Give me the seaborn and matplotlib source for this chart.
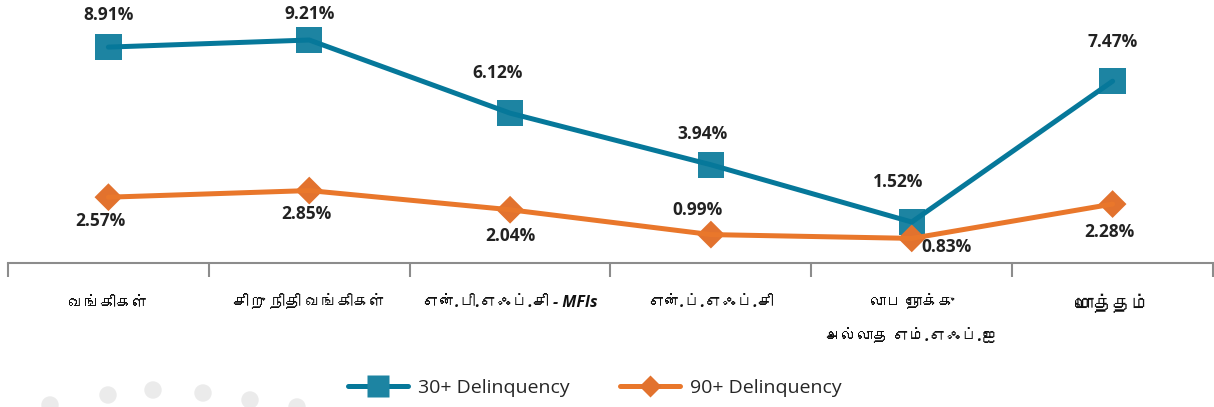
import matplotlib
matplotlib.use("Agg")
import matplotlib.pyplot as plt
from matplotlib import font_manager
from matplotlib.ft2font import FT2Font
from matplotlib.lines import Line2D
from matplotlib.patches import Circle
from matplotlib.ticker import FixedLocator
import pandas as pd
import seaborn as sns

CATEGORIES = [
    "வங்கிகள்",
    "சிறு நிதி வங்கிகள்",
    "என்.பி.எஃப்.சி - MFIs",
    "என்.ப்.எஃப்.சி",
    "லாப நோக்கு\nஅல்லாத எம்.எஃப்.ஐ",
    "மொத்தம்",
]
DELINQ_30 = [8.91, 9.21, 6.12, 3.94, 1.52, 7.47]
DELINQ_90 = [2.57, 2.85, 2.04, 0.99, 0.83, 2.28]
SERIES_NAMES = ["30+ Delinquency", "90+ Delinquency"]

BLUE_LINE = "#06789a"
BLUE_MARK = "#1d84a2"
ORANGE_LINE = "#e9772b"
ORANGE_MARK = "#e2722e"

# label offsets in points (dx, dy) per point
OFFSETS_30 = [(0, 23), (0, 19), (-9, 29), (-6, 22), (-10, 29), (0, 28)]
OFFSETS_90 = [(-6, -17), (-2, -17), (0, -19), (-10, 18), (25, -6), (-2, -20)]


def find_tamil_font():
    for entry in font_manager.fontManager.ttflist:
        try:
            cmap = FT2Font(entry.fname).get_charmap()
        except Exception:
            continue
        if ord("வ") in cmap and ord("ஃ") in cmap:
            return entry.name
    return None


def main():
    sns.set_theme(style="white")
    tamil = find_tamil_font()
    families = ["Open Sans", "DejaVu Sans"]
    if tamil:
        families = ["Open Sans", tamil, "DejaVu Sans"]
    plt.rcParams["font.family"] = families

    df = pd.DataFrame({
        "pos": list(range(len(CATEGORIES))) * 2,
        "value": DELINQ_30 + DELINQ_90,
        "series": [SERIES_NAMES[0]] * len(CATEGORIES) + [SERIES_NAMES[1]] * len(CATEGORIES),
    })

    fig = plt.figure(figsize=(12.14, 4.07), dpi=100)
    ax = fig.add_axes([8 / 1214, 1 - 263 / 407, 1 - 9 / 1214, 263 / 407])

    # markers under the lines
    sns.scatterplot(data=df[df.series == SERIES_NAMES[0]], x="pos", y="value", marker="s",
                    s=360, color=BLUE_MARK, edgecolor="none", ax=ax, zorder=2, legend=False)
    sns.scatterplot(data=df[df.series == SERIES_NAMES[1]], x="pos", y="value", marker="D",
                    s=200, color=ORANGE_MARK, edgecolor="none", ax=ax, zorder=2, legend=False)
    sns.lineplot(data=df, x="pos", y="value", hue="series",
                 palette=[BLUE_LINE, ORANGE_LINE], linewidth=3.6, ax=ax, zorder=3, legend=False)

    for i, v in enumerate(DELINQ_30):
        ax.annotate(f"{v:.2f}%", (i, v), xytext=OFFSETS_30[i], textcoords="offset points",
                    ha="center", va="center", fontsize=12.5, fontweight="bold", color="#222222")
    for i, v in enumerate(DELINQ_90):
        ax.annotate(f"{v:.2f}%", (i, v), xytext=OFFSETS_90[i], textcoords="offset points",
                    ha="center", va="center", fontsize=12.5, fontweight="bold", color="#222222")

    ax.set_xlim(-0.5, len(CATEGORIES) - 0.5)
    ax.set_ylim(-0.21, 10.9)
    ax.set_xlabel("")
    ax.set_ylabel("")
    ax.set_yticks([])
    for side in ["left", "right", "top"]:
        ax.spines[side].set_visible(False)
    ax.spines["bottom"].set_color("#8c8c8c")
    ax.spines["bottom"].set_linewidth(1.5)

    ax.set_xticks(range(len(CATEGORIES)))
    ax.set_xticklabels(CATEGORIES, fontsize=11.5, fontweight="bold", fontstyle="italic",
                       linespacing=2.5)
    ax.xaxis.set_minor_locator(FixedLocator([i - 0.5 for i in range(len(CATEGORIES) + 1)]))
    ax.tick_params(axis="x", which="major", length=0, pad=23, colors="#111111")
    ax.tick_params(axis="x", which="minor", length=10, width=1.5, color="#8c8c8c",
                   direction="out", bottom=True)
    last = ax.get_xticklabels()[-1]
    last.set_fontweight("normal")
    last.set_fontstyle("normal")
    last.set_fontsize(13.5)

    handles = [
        Line2D([], [], color=BLUE_LINE, linewidth=3.6, marker="s", markersize=16,
               markerfacecolor=BLUE_MARK, markeredgecolor="none"),
        Line2D([], [], color=ORANGE_LINE, linewidth=3.6, marker="D", markersize=11,
               markerfacecolor=ORANGE_MARK, markeredgecolor="none"),
    ]
    fig.legend(handles, SERIES_NAMES, loc="center", bbox_to_anchor=(0.49, 0.047), ncol=2,
               frameon=False, fontsize=14, handlelength=3.1, columnspacing=2.6,
               handletextpad=0.5)

    # faint decorative dots in the lower-left corner
    for cx, cy in [(50, 405), (108, 395), (153, 390), (203, 393), (250, 400), (297, 407)]:
        fig.patches.append(Circle((cx / 100, (407 - cy) / 100), 0.08,
                                  transform=fig.dpi_scale_trans, color="#ebebeb", zorder=0))

    fig.savefig("out.png", dpi=100)


if __name__ == "__main__":
    main()
